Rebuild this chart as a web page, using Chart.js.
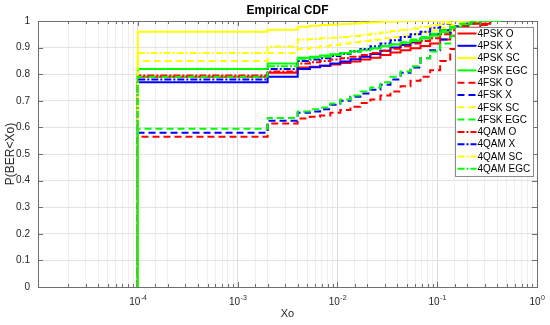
<!DOCTYPE html>
<html>
<head>
<meta charset="utf-8">
<script src="https://cdn.jsdelivr.net/npm/chart.js@4.4.1/dist/chart.umd.min.js"></script>
<style>
    html, body { margin: 0; padding: 0; background: #fff; }
</style>
</head>
<body>
<canvas id="cdfChart" width="550" height="325"></canvas>
<script>
// Xo grid where the empirical CDFs step (first point doubled: ECDF starts at 0)
const xo = [1e-4, 1e-4, 2e-3, 4e-3, 5.3e-3, 6.7e-3, 8.5e-3, 0.0107, 0.0135, 0.017, 0.0214,
    0.027, 0.034, 0.043, 0.054, 0.068, 0.085, 0.107, 0.135, 0.17, 0.21, 0.27, 0.34, 0.43];

const pskO   = [0, 0.79, 0.805, 0.825, 0.828, 0.832, 0.836, 0.842, 0.848, 0.855, 0.862, 0.872, 0.882, 0.89, 0.898, 0.906, 0.915, 0.93, 0.945, 0.96, 0.975, 0.99, 1, 1];
const pskX   = [0, 0.77, 0.79, 0.82, 0.826, 0.832, 0.84, 0.848, 0.856, 0.866, 0.876, 0.888, 0.9, 0.91, 0.92, 0.935, 0.95, 0.965, 0.98, 0.99, 1, 1, 1, 1];
const pskSC  = [0, 0.96, 0.967, 0.978, 0.982, 0.985, 0.987, 0.989, 0.991, 0.993, 0.995, 0.997, 0.998, 0.999, 1, 1, 1, 1, 1, 1, 1, 1, 1, 1];
const pskEGC = [0, 0.82, 0.84, 0.862, 0.866, 0.87, 0.875, 0.88, 0.886, 0.892, 0.898, 0.905, 0.912, 0.918, 0.925, 0.935, 0.945, 0.958, 0.972, 0.985, 0.995, 1, 1, 1];
const fskO   = [0, 0.565, 0.615, 0.633, 0.64, 0.645, 0.655, 0.665, 0.678, 0.692, 0.705, 0.72, 0.735, 0.755, 0.775, 0.79, 0.815, 0.85, 0.895, 0.935, 0.965, 0.985, 1, 1];
const fskX   = [0, 0.58, 0.625, 0.655, 0.66, 0.668, 0.685, 0.7, 0.715, 0.727, 0.742, 0.76, 0.78, 0.805, 0.825, 0.86, 0.89, 0.93, 0.955, 0.975, 0.99, 1, 1, 1];
const fskSC  = [0, 0.85, 0.88, 0.895, 0.9, 0.905, 0.91, 0.915, 0.92, 0.925, 0.93, 0.935, 0.94, 0.945, 0.95, 0.958, 0.965, 0.975, 0.985, 0.993, 1, 1, 1, 1];
const fskEGC = [0, 0.595, 0.635, 0.66, 0.668, 0.675, 0.69, 0.705, 0.72, 0.735, 0.75, 0.77, 0.79, 0.81, 0.83, 0.86, 0.885, 0.915, 0.945, 0.97, 0.99, 1, 1, 1];
const qamO   = [0, 0.795, 0.81, 0.84, 0.845, 0.85, 0.855, 0.86, 0.866, 0.872, 0.88, 0.888, 0.896, 0.905, 0.915, 0.925, 0.935, 0.95, 0.965, 0.98, 0.99, 1, 1, 1];
const qamX   = [0, 0.78, 0.82, 0.85, 0.855, 0.86, 0.868, 0.876, 0.885, 0.895, 0.905, 0.915, 0.928, 0.94, 0.95, 0.96, 0.975, 0.99, 1, 1, 1, 1, 1, 1];
const qamSC  = [0, 0.88, 0.904, 0.93, 0.932, 0.935, 0.937, 0.94, 0.944, 0.948, 0.952, 0.957, 0.962, 0.967, 0.972, 0.978, 0.985, 0.992, 1, 1, 1, 1, 1, 1];
const qamEGC = [0, 0.79, 0.83, 0.858, 0.862, 0.866, 0.872, 0.878, 0.884, 0.89, 0.897, 0.905, 0.913, 0.92, 0.93, 0.94, 0.952, 0.965, 0.978, 0.99, 1, 1, 1, 1];

const seriesLabels = ["4PSK O", "4PSK X", "4PSK SC", "4PSK EGC",
    "4FSK O", "4FSK X", "4FSK SC", "4FSK EGC",
    "4QAM O", "4QAM X", "4QAM SC", "4QAM EGC"];
const seriesValues = [pskO, pskX, pskSC, pskEGC, fskO, fskX, fskSC, fskEGC, qamO, qamX, qamSC, qamEGC];

// x tick labels are 10^e for these exponents
const xDecades = [-4, -3, -2, -1, 0];
const yTicks = [0, 0.1, 0.2, 0.3, 0.4, 0.5, 0.6, 0.7, 0.8, 0.9, 1];

const colors = ["#ff0000", "#0000ff", "#ffff00", "#00ff00"];
const dashes = [[], [7, 4], [7, 2, 2, 2]];

function isDecade(v) {
    const l = Math.log10(v);
    return Math.abs(l - Math.round(l)) < 1e-9;
}

const FONT = "'Liberation Sans', Arial, sans-serif";
Chart.defaults.font.family = FONT;
Chart.defaults.color = "#262626";

const datasets = seriesValues.map((vals, i) => ({
    label: seriesLabels[i],
    data: vals.map((v, j) => ({ x: xo[j], y: v })),
    borderColor: colors[i % 4],
    backgroundColor: colors[i % 4],
    borderDash: dashes[Math.floor(i / 4)],
    borderWidth: 2,
    pointRadius: 0,
    stepped: true,
    fill: false,
    order: seriesValues.length - i,
}));

const matlabAxes = {
    id: "matlabAxes",
    beforeDatasetsDraw(chart) {
        const { ctx, chartArea: a, scales } = chart;
        const x = scales.x, y = scales.y;
        ctx.save();
        ctx.strokeStyle = "#6e6e6e";
        ctx.lineWidth = 1;
        ctx.beginPath();
        x.ticks.forEach((t) => {
            const px = Math.round(x.getPixelForValue(t.value)) + 0.5;
            const len = isDecade(t.value) ? 5 : 3;
            ctx.moveTo(px, a.bottom);
            ctx.lineTo(px, a.bottom - len);
            ctx.moveTo(px, a.top);
            ctx.lineTo(px, a.top + len);
        });
        y.ticks.forEach((t) => {
            const py = Math.round(y.getPixelForValue(t.value)) + 0.5;
            ctx.moveTo(a.left, py);
            ctx.lineTo(a.left + 5, py);
            ctx.moveTo(a.right, py);
            ctx.lineTo(a.right - 5, py);
        });
        ctx.stroke();
        ctx.strokeRect(Math.round(a.left) + 0.5, Math.round(a.top) + 0.5,
            Math.round(a.right - a.left), Math.round(a.bottom - a.top));

        // x tick labels with raised exponent
        ctx.fillStyle = "#262626";
        ctx.textBaseline = "alphabetic";
        ctx.textAlign = "left";
        xDecades.forEach((e) => {
            const px = x.getPixelForValue(Math.pow(10, e));
            const base = "10", exp = String(e);
            ctx.font = "10px " + FONT;
            const w1 = ctx.measureText(base).width;
            ctx.font = "7px " + FONT;
            const w2 = ctx.measureText(exp).width;
            const start = px - (w1 + w2) / 2;
            ctx.font = "10px " + FONT;
            ctx.fillText(base, start, a.bottom + 18);
            ctx.font = "7px " + FONT;
            ctx.fillText(exp, start + w1 + 0.5, a.bottom + 12.5);
        });
        ctx.restore();
    },
    afterDraw(chart) {
        const { ctx, chartArea: a } = chart;
        ctx.save();
        // title
        ctx.fillStyle = "#000";
        ctx.font = "bold 12px " + FONT;
        ctx.textAlign = "center";
        ctx.textBaseline = "middle";
        ctx.fillText("Empirical CDF", (a.left + a.right) / 2, 11);

        // legend box, top right inside the axes
        const w = 78, rowH = 12.3;
        const left = Math.round(a.right - 4 - w) + 0.5;
        const top = Math.round(a.top + 6) + 0.5;
        const h = Math.round(rowH * datasets.length + 1);
        ctx.fillStyle = "#fff";
        ctx.fillRect(left, top, w, h);
        ctx.strokeStyle = "#8c8c8c";
        ctx.lineWidth = 1;
        ctx.strokeRect(left, top, w, h);
        ctx.font = "10px " + FONT;
        ctx.textAlign = "left";
        datasets.forEach((ds, i) => {
            const cy = top + 6 + i * rowH;
            ctx.strokeStyle = ds.borderColor;
            ctx.lineWidth = 2;
            ctx.setLineDash(ds.borderDash);
            ctx.beginPath();
            ctx.moveTo(left + 2, cy);
            ctx.lineTo(left + 21, cy);
            ctx.stroke();
            ctx.setLineDash([]);
            ctx.fillStyle = "#000";
            ctx.fillText(ds.label, left + 22, cy + 0.5);
        });
        ctx.restore();
    },
};

new Chart(document.getElementById("cdfChart"), {
    type: "line",
    data: { datasets },
    options: {
        responsive: false,
        animation: false,
        layout: { padding: { top: 21, right: 13, left: 0, bottom: 0 } },
        plugins: {
            legend: { display: false },
            title: { display: false },
            tooltip: { enabled: false },
        },
        scales: {
            x: {
                type: "logarithmic",
                min: 1e-5,
                max: 1,
                afterFit(scale) { scale.height = 38; },
                border: { display: false },
                grid: {
                    drawTicks: false,
                    color: (c) => (c.tick && isDecade(c.tick.value) ? "#dcdcdc" : "#efefef"),
                },
                ticks: {
                    autoSkip: false,
                    maxRotation: 0,
                    padding: 6,
                    font: { size: 10 },
                    callback: () => "",
                },
                title: {
                    display: true,
                    text: "Xo",
                    font: { size: 11 },
                    padding: { top: 0, bottom: 4 },
                },
            },
            y: {
                min: 0,
                max: 1,
                afterFit(scale) { scale.width = 38; },
                afterBuildTicks(scale) { scale.ticks = yTicks.map((v) => ({ value: v })); },
                border: { display: false },
                grid: { drawTicks: false, color: "#e3e3e3" },
                ticks: {
                    padding: 8,
                    font: { size: 10 },
                    callback: (v) => String(+v.toFixed(1)),
                },
                title: {
                    display: true,
                    text: "P(BER<Xo)",
                    font: { size: 12 },
                    padding: { top: 3, bottom: 0 },
                },
            },
        },
    },
    plugins: [matlabAxes],
});
</script>
</body>
</html>
